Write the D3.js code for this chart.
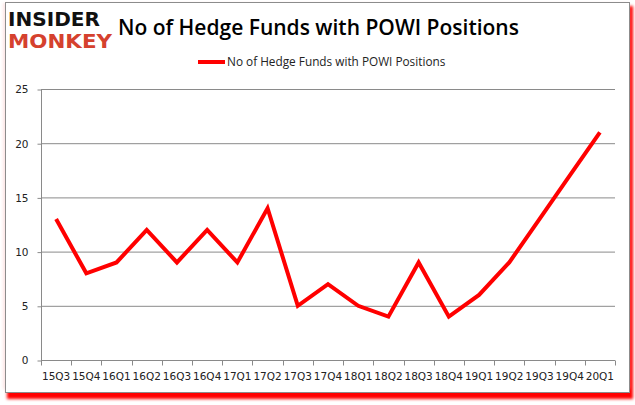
<!DOCTYPE html>
<html>
<head>
<meta charset="utf-8">
<script src="https://cdn.jsdelivr.net/npm/d3@7"></script>
<style>
  body { margin: 0; background: #fff; }
  svg { display: block; }
  .tick text { font-family: "DejaVu Sans", Verdana, sans-serif; font-size: 10.5px; fill: #222; }
</style>
</head>
<body>
<svg id="chart" width="635" height="405"></svg>
<script>
// quarters and hedge fund counts
let quarters = ["15Q3","15Q4","16Q1","16Q2","16Q3","16Q4","17Q1","17Q2","17Q3","17Q4",
                "18Q1","18Q2","18Q3","18Q4","19Q1","19Q2","19Q3","19Q4","20Q1"]
let funds = [13, 8, 9, 12, 9, 12, 9, 14, 5, 7, 5, 4, 9, 4, 6, 9, 13, 17, 21]
let yTicks = [0, 5, 10, 15, 20, 25]
let seriesName = "No of Hedge Funds with POWI Positions"

let svg = d3.select("#chart")
let plotLeft = 41, plotRight = 615, plotTop = 89, plotBottom = 360

// frame with red drop shadow
let defs = svg.append("defs")
let f = defs.append("filter").attr("id", "blur").attr("x", "-10%").attr("y", "-10%")
    .attr("width", "120%").attr("height", "120%")
f.append("feGaussianBlur").attr("stdDeviation", 1.5)
svg.append("rect").attr("x", 7).attr("y", 6).attr("width", 626).attr("height", 393)
    .attr("fill", "#ff0000").attr("filter", "url(#blur)")
svg.append("rect").attr("x", 3).attr("y", 3).attr("width", 626).attr("height", 386)
    .attr("fill", "#fde6e6").attr("filter", "url(#blur)")
svg.append("rect").attr("x", 5.5).attr("y", 2.5).attr("width", 624).attr("height", 390)
    .attr("fill", "#fff").attr("stroke", "#8c8c8c").attr("stroke-width", 1)

let x = d3.scaleBand().domain(quarters).range([plotLeft, plotRight])
let y = d3.scaleLinear().domain([0, 25]).range([plotBottom, plotTop])

// grid
svg.append("g").selectAll("line").data(yTicks.filter(d => d > 0)).enter()
    .append("line")
    .attr("x1", plotLeft).attr("x2", plotRight)
    .attr("y1", d => y(d) + 0.5).attr("y2", d => y(d) + 0.5)
    .attr("stroke", "#8a8a8a")

// y axis
let yAxis = d3.axisLeft(y).tickValues(yTicks).tickSize(5).tickPadding(8)
let gy = svg.append("g").attr("transform", `translate(${plotLeft + 0.5},0.5)`).call(yAxis)
gy.select(".domain").attr("stroke", "#8a8a8a").attr("d", `M0,${plotTop}V${plotBottom}`)
gy.selectAll(".tick line").attr("stroke", "#8a8a8a").attr("x2", -4)

// x axis, ticks on band edges
let xAxis = d3.axisBottom(x).tickSize(0).tickPadding(12)
let gx = svg.append("g").attr("transform", `translate(0,${plotBottom + 0.5})`).call(xAxis)
gx.select(".domain").attr("stroke", "#8a8a8a").attr("d", `M${plotLeft},0H${plotRight}`)
gx.selectAll(".edge").data(quarters.concat(["end"])).enter().append("line")
    .attr("class", "edge")
    .attr("x1", (d, i) => Math.round(plotLeft + i * x.step()) + 0.5)
    .attr("x2", (d, i) => Math.round(plotLeft + i * x.step()) + 0.5)
    .attr("y1", 0).attr("y2", 5)
    .attr("stroke", "#8a8a8a")

// series
let line = d3.line()
    .x((d, i) => x(quarters[i]) + x.bandwidth() / 2)
    .y(d => y(d))
svg.append("path").datum(funds)
    .attr("d", line)
    .attr("fill", "none")
    .attr("stroke", "#ff0000")
    .attr("stroke-width", 4)
    .attr("stroke-linejoin", "miter")

// legend
svg.append("line").attr("x1", 198).attr("x2", 225).attr("y1", 62).attr("y2", 62)
    .attr("stroke", "#ff0000").attr("stroke-width", 4)
svg.append("text").attr("x", 227).attr("y", 66)
    .attr("font-family", "'Open Sans', sans-serif").attr("font-size", 11.8)
    .attr("fill", "#222").text(seriesName)

// title
svg.append("text").attr("x", 118).attr("y", 35)
    .attr("font-family", "'Open Sans', sans-serif").attr("font-size", 21)
    .attr("font-weight", 600).attr("fill", "#000")
    .text("No of Hedge Funds with POWI Positions")

// logo
svg.append("text").attr("x", 8).attr("y", 26)
    .attr("font-family", "'DejaVu Sans', sans-serif").attr("font-size", 19)
    .attr("font-weight", "bold").attr("fill", "#111")
    .attr("textLength", 92).attr("lengthAdjust", "spacingAndGlyphs")
    .text("INSIDER")
svg.append("text").attr("x", 8).attr("y", 48)
    .attr("font-family", "'DejaVu Sans', sans-serif").attr("font-size", 19)
    .attr("font-weight", "bold").attr("fill", "#d5412e")
    .attr("textLength", 104).attr("lengthAdjust", "spacingAndGlyphs")
    .text("MONKEY")
</script>
</body>
</html>
